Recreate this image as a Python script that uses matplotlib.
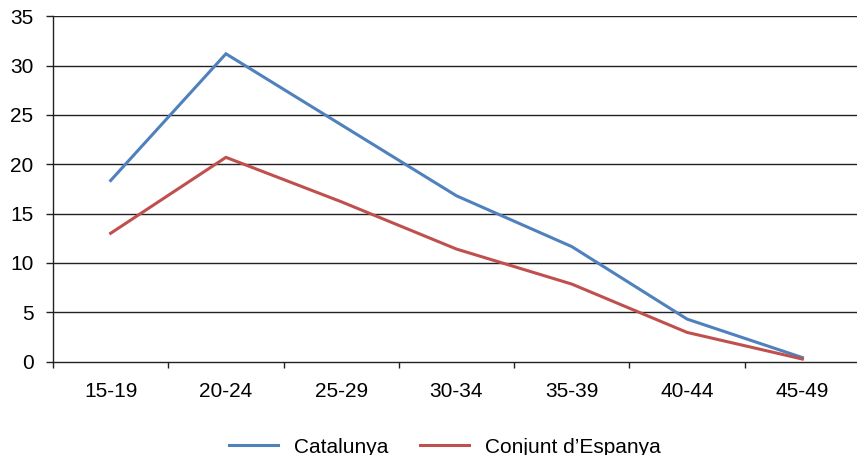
import matplotlib
matplotlib.use("Agg")
import matplotlib.pyplot as plt
import numpy as np

categories = ["15-19", "20-24", "25-29", "30-34", "35-39", "40-44", "45-49"]
catalunya = [18.35, 31.2, 24.0, 16.8, 11.65, 4.3, 0.4]
espanya = [13.0, 20.7, 16.2, 11.4, 7.85, 2.95, 0.25]
yticks = [0, 5, 10, 15, 20, 25, 30, 35]

plt.rcParams['font.family'] = ['Liberation Sans', 'DejaVu Sans']
FS = 15

fig = plt.figure(figsize=(8.57, 4.55), dpi=100)
ax = fig.add_axes([53/857, 93.5/455, 807/857, 345.2/455])

x = np.arange(len(categories))
ax.plot(x, catalunya, color='#4F81BD', lw=2.2, label='Catalunya', solid_joinstyle='miter')
ax.plot(x, espanya, color='#C0504D', lw=2.2, label="Conjunt d\u2019Espanya", solid_joinstyle='miter')

ax.set_xlim(-0.5, len(categories) - 0.5)
ax.set_ylim(0, 35)
ax.set_yticks(yticks)
ax.set_yticklabels([str(v) for v in yticks], fontsize=FS)
for v in yticks[1:]:
    ax.axhline(v, color='#222222', lw=1.0, zorder=0)

ax.set_xticks(x)
ax.set_xticklabels(categories, fontsize=FS)
ax.set_xticks(np.arange(-0.5, len(categories), 1.0), minor=True)
ax.tick_params(axis='x', which='major', length=0, pad=15)
ax.tick_params(axis='x', which='minor', length=4.5, width=1, color='#222222', direction='out')
ax.tick_params(axis='y', length=5, width=1, color='#222222', direction='out', pad=9)

for s in ['top', 'right']:
    ax.spines[s].set_visible(False)
for s in ['left', 'bottom']:
    ax.spines[s].set_color('#222222')
    ax.spines[s].set_linewidth(1.0)

fig.legend(loc='lower center', bbox_to_anchor=(0.519, -0.045), ncol=2, frameon=False,
           fontsize=FS, handlelength=2.35, handletextpad=0.77, columnspacing=1.5)

fig.savefig('out.png', dpi=100)
